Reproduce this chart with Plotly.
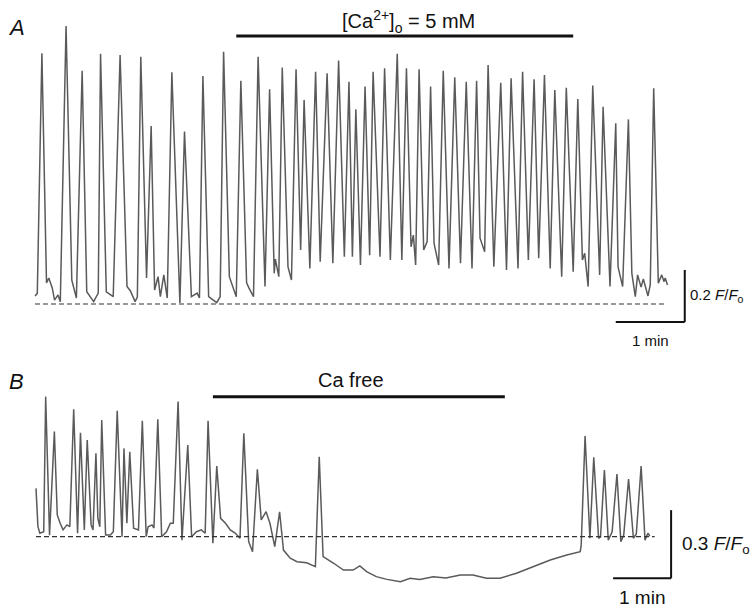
import plotly.graph_objects as go

# ---------------- DATA ----------------
# Panel A: time (s) and fluorescence (F/F0), control -> [Ca2+]o = 5 mM
a_time = [0, 2, 6, 10, 12, 15, 17, 20, 22, 27, 32, 36, 41, 45, 51, 55, 57, 62, 68, 74,
          80, 83, 87, 89, 92, 97, 101, 104, 107, 109, 112, 115, 119, 126, 130, 136, 141, 143, 146, 151,
          155, 158, 161, 164, 169, 171, 175, 179, 184, 186, 190, 194, 200, 204, 208, 209, 212, 215, 220, 223,
          227, 231, 234, 239, 244, 248, 254, 259, 264, 269, 273, 276, 279, 283, 287, 291, 294, 300, 304, 309,
          315, 319, 323, 327, 329, 331, 334, 338, 341, 344, 347, 351, 355, 360, 365, 370, 375, 380, 384, 387,
          391, 394, 399, 405, 410, 414, 420, 424, 429, 434, 438, 443, 448, 452, 458, 462, 468, 472, 476, 478,
          481, 485, 490, 491, 494, 500, 505, 507, 511, 516, 519, 522, 524, 527, 529, 533, 535, 538, 542, 545,
          547, 548, 550]
a_ff0 = [1.031, 1.041, 1.964, 1.081, 1.100, 1.062, 1.015, 1.035, 1.009, 2.069, 1.092, 1.023, 1.897, 1.047, 1.009, 1.042, 1.962, 1.047, 1.028, 1.958,
         1.067, 1.050, 1.009, 1.027, 1.951, 1.100, 1.685, 1.054, 1.105, 1.028, 1.112, 1.023, 1.891, 1.004, 1.663, 1.028, 1.042, 1.023, 1.877, 1.028,
         1.015, 1.005, 1.028, 1.970, 1.105, 1.081, 1.028, 1.859, 1.081, 1.062, 1.028, 1.951, 1.067, 1.826, 1.118, 1.173, 1.105, 1.910, 1.143, 1.092,
         1.903, 1.208, 1.785, 1.137, 1.893, 1.163, 1.887, 1.157, 1.936, 1.182, 1.855, 1.182, 1.749, 1.150, 1.836, 1.188, 1.893, 1.182, 1.907, 1.169,
         1.962, 1.169, 1.907, 1.220, 1.265, 1.150, 1.903, 1.208, 1.240, 1.836, 1.233, 1.150, 1.897, 1.137, 1.872, 1.157, 1.855, 1.137, 1.859, 1.253,
         1.201, 1.919, 1.143, 1.851, 1.131, 1.868, 1.137, 1.893, 1.169, 1.864, 1.176, 1.881, 1.137, 1.823, 1.105, 1.832, 1.124, 1.788, 1.169, 1.195,
         1.067, 1.840, 1.163, 1.112, 1.759, 1.067, 1.695, 1.143, 1.067, 1.710, 1.118, 1.028, 1.112, 1.065, 1.096, 1.031, 1.073, 1.830, 1.080, 1.112,
         1.086, 1.100, 1.073]

# Panel B: time (s) and fluorescence (F/F0), control -> Ca free
b_time = [0, 2, 4, 8, 10, 14, 19, 22, 25, 28, 32, 35, 39, 43, 46, 50, 53, 57, 59, 62,
          64, 66, 68, 72, 77, 80, 84, 89, 91, 94, 97, 101, 106, 110, 114, 116, 120, 122, 126, 130,
          135, 139, 142, 147, 151, 157, 161, 166, 171, 175, 178, 183, 187, 191, 196, 201, 206, 211, 215, 220,
          224, 229, 233, 238, 242, 247, 252, 256, 263, 270, 280, 289, 293, 297, 308, 318, 328, 335, 342, 352,
          363, 377, 387, 397, 411, 424, 439, 452, 466, 480, 497, 514, 532, 549, 563, 564, 568, 573, 577, 582,
          584, 588, 592, 596, 601, 605, 608, 613, 618, 621, 626, 630, 633, 635]
b_ff0 = [1.213, 1.044, 1.015, 1.022, 1.617, 1.007, 1.463, 1.096, 1.059, 1.030, 1.052, 1.044, 1.561, 1.015, 1.458, 1.030, 1.426, 1.052, 1.030, 1.367,
         1.081, 1.044, 1.514, 1.007, 1.007, 1.022, 1.555, 1.000, 1.389, 1.059, 1.374, 1.037, 1.030, 1.511, 1.000, 1.044, 1.052, 1.038, 1.517, 1.000,
         1.022, 1.059, 1.059, 1.595, 0.985, 1.404, 1.000, 1.022, 1.030, 1.015, 1.511, 0.971, 1.311, 1.081, 1.059, 1.030, 1.016, 0.993, 1.456, 0.978,
         0.934, 1.297, 1.074, 1.110, 1.059, 0.956, 1.110, 0.941, 0.905, 0.890, 0.885, 0.868, 1.352, 0.912, 0.883, 0.853, 0.853, 0.871, 0.846, 0.824,
         0.812, 0.802, 0.817, 0.812, 0.824, 0.818, 0.831, 0.831, 0.817, 0.817, 0.839, 0.868, 0.897, 0.919, 0.934, 0.963, 1.444, 0.993, 1.350, 0.993,
         0.999, 1.294, 0.985, 1.022, 1.276, 0.978, 1.007, 1.254, 0.993, 1.012, 1.311, 0.985, 1.015, 1.003]

# Application periods (s)
a_stim = [175, 468]
b_stim = [183, 485]
a_label = "[Ca<sup>2+</sup>]<sub>o</sub> = 5 mM"
b_label = "Ca free"

# Scale bars
a_bar_time, a_bar_ff0 = 60, 0.2
b_bar_time, b_bar_ff0 = 60, 0.3

# ---------------- LAYOUT ----------------
W, H = 756, 607
FONT = "Liberation Sans, Arial, Helvetica, sans-serif"

# pixel frame of each panel: (x0 px of t=0, px per s, py of F/F0=1, px per unit)
A_FR = dict(x0=35, pxs=69 / 60, base=304, pxu=260, top=0, bot=358)
B_FR = dict(x0=36, pxs=58 / 60, base=536.7, pxu=227, top=358, bot=H)


def xr(fr):
    return [(0 - fr["x0"]) / fr["pxs"], (W - fr["x0"]) / fr["pxs"]]


def yr(fr):
    return [1 + (fr["base"] - fr["bot"]) / fr["pxu"], 1 + (fr["base"] - fr["top"]) / fr["pxu"]]


def ydom(fr):
    return [1 - fr["bot"] / H, 1 - fr["top"] / H]


fig = go.Figure()
trace_style = dict(color="#5a5a5a", width=1.5)
fig.add_trace(go.Scatter(x=a_time, y=a_ff0, mode="lines", line=trace_style,
                         xaxis="x", yaxis="y", hoverinfo="skip"))
fig.add_trace(go.Scatter(x=b_time, y=b_ff0, mode="lines", line=trace_style,
                         xaxis="x2", yaxis="y2", hoverinfo="skip"))

shapes = []
# dashed baselines
shapes.append(dict(type="line", xref="x", yref="y", x0=0, x1=548, y0=1, y1=1,
                   line=dict(color="#333", width=1.2, dash="5px,3px")))
shapes.append(dict(type="line", xref="x2", yref="y2", x0=0, x1=640, y0=1, y1=1,
                   line=dict(color="#333", width=1.2, dash="5px,3px")))
# stimulus bars
shapes.append(dict(type="line", xref="x", yref="y", x0=a_stim[0], x1=a_stim[1], y0=2.031, y1=2.031,
                   line=dict(color="#111", width=3)))
shapes.append(dict(type="line", xref="x2", yref="y2", x0=b_stim[0], x1=b_stim[1], y0=1.617, y1=1.617,
                   line=dict(color="#111", width=3)))
# scale bars A
ax0, ay0 = 505, 0.931
shapes.append(dict(type="line", xref="x", yref="y", x0=ax0, x1=ax0 + a_bar_time, y0=ay0, y1=ay0,
                   line=dict(color="#111", width=2)))
shapes.append(dict(type="line", xref="x", yref="y", x0=ax0 + a_bar_time, x1=ax0 + a_bar_time,
                   y0=ay0, y1=ay0 + a_bar_ff0, line=dict(color="#111", width=2)))
# scale bars B
bx0, by0 = 597, 0.817
shapes.append(dict(type="line", xref="x2", yref="y2", x0=bx0, x1=bx0 + b_bar_time, y0=by0, y1=by0,
                   line=dict(color="#111", width=2)))
shapes.append(dict(type="line", xref="x2", yref="y2", x0=bx0 + b_bar_time, x1=bx0 + b_bar_time,
                   y0=by0, y1=by0 + b_bar_ff0, line=dict(color="#111", width=2)))

ann = []
ann.append(dict(xref="x", yref="y", x=325, y=2.085, text=a_label, showarrow=False,
                font=dict(size=20, color="#111", family=FONT), yanchor="middle"))
ann.append(dict(xref="x2", yref="y2", x=326, y=1.690, text=b_label, showarrow=False,
                font=dict(size=20, color="#111", family=FONT), yanchor="middle"))
ann.append(dict(xref="x", yref="y", x=ax0 + a_bar_time + 3, y=ay0 + 0.1,
                text="0.2 <i>F</i>/<i>F</i><sub>o</sub>", showarrow=False, xanchor="left",
                font=dict(size=15, color="#111", family=FONT)))
ann.append(dict(xref="x", yref="y", x=ax0 + a_bar_time / 2, y=ay0 - 0.07, text="1 min",
                showarrow=False, font=dict(size=15, color="#111", family=FONT), yanchor="middle"))
ann.append(dict(xref="x2", yref="y2", x=bx0 + b_bar_time + 9, y=0.963,
                text="0.3 <i>F</i>/<i>F</i><sub>o</sub>", showarrow=False, xanchor="left",
                font=dict(size=19, color="#111", family=FONT)))
ann.append(dict(xref="x2", yref="y2", x=bx0 + b_bar_time / 2, y=0.730, text="1 min",
                showarrow=False, font=dict(size=19, color="#111", family=FONT), yanchor="middle"))
ann.append(dict(xref="paper", yref="paper", x=16 / W, y=1 - 28 / H, text="<i>A</i>",
                xanchor="center", yanchor="middle",
                showarrow=False, font=dict(size=22, color="#111", family=FONT)))
ann.append(dict(xref="paper", yref="paper", x=16 / W, y=1 - 381 / H, text="<i>B</i>",
                xanchor="center", yanchor="middle",
                showarrow=False, font=dict(size=22, color="#111", family=FONT)))

hidden = dict(visible=False, showgrid=False, zeroline=False, fixedrange=True)
fig.update_layout(
    width=W, height=H, margin=dict(l=0, r=0, t=0, b=0),
    paper_bgcolor="white", plot_bgcolor="white", showlegend=False,
    xaxis=dict(range=xr(A_FR), domain=[0, 1], anchor="y", **hidden),
    yaxis=dict(range=yr(A_FR), domain=ydom(A_FR), anchor="x", **hidden),
    xaxis2=dict(range=xr(B_FR), domain=[0, 1], anchor="y2", **hidden),
    yaxis2=dict(range=yr(B_FR), domain=ydom(B_FR), anchor="x2", **hidden),
    shapes=shapes, annotations=ann,
)

fig.write_html("out.html", config={"displayModeBar": False},
               post_script="document.body.style.margin='0';document.body.style.overflow='hidden';")
